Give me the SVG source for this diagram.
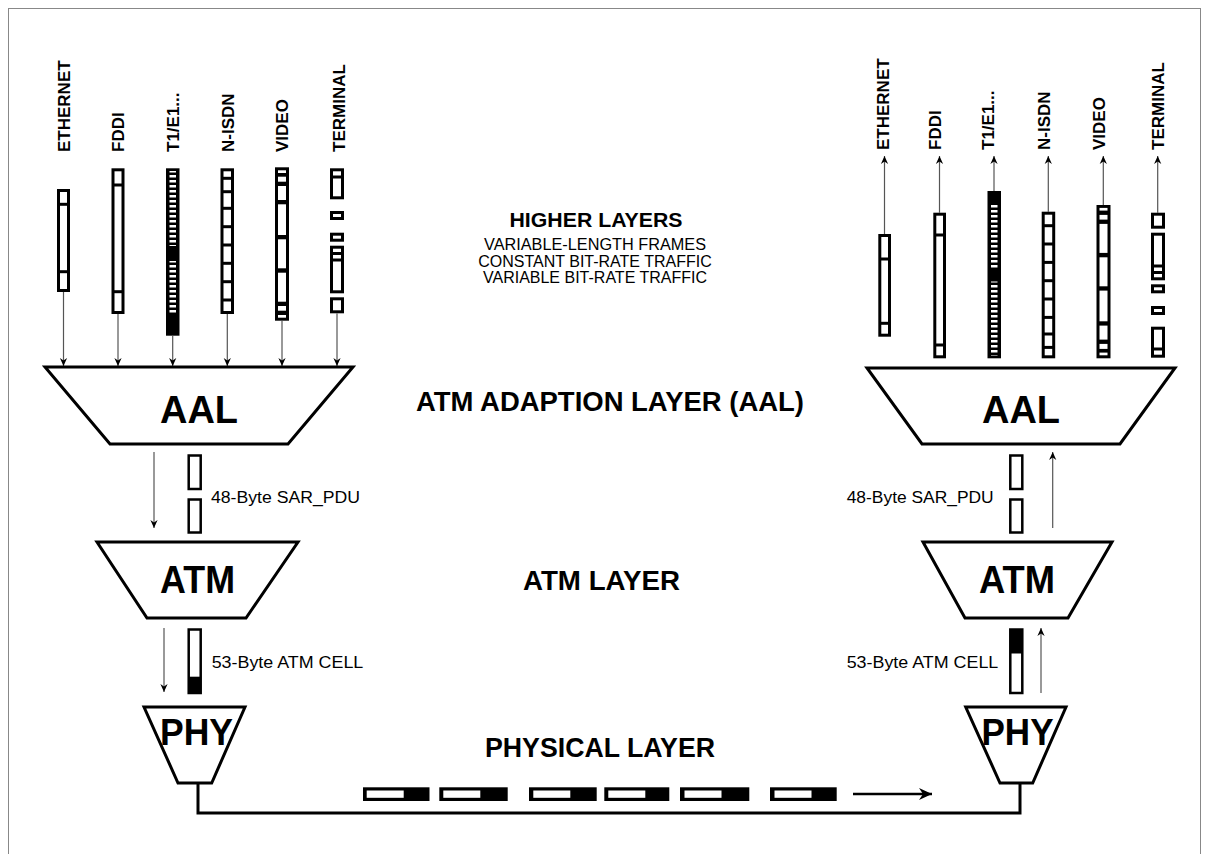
<svg xmlns="http://www.w3.org/2000/svg" width="1209" height="854" viewBox="0 0 1209 854">
<style>
.t{font-family:"Liberation Sans",Arial,sans-serif;fill:#000}
.b{font-weight:bold}
.lbl{font-family:"Liberation Sans",Arial,sans-serif;font-weight:bold;font-size:17px}
.hd{font-size:27px;font-weight:bold}
.big{font-size:38px;font-weight:bold}
.sm{font-size:16px}
.shape{fill:#fff;stroke:#000;stroke-width:3;stroke-linejoin:miter}
.arr{stroke:#555;stroke-width:1.2;fill:none;marker-end:url(#ah)}
.blk{fill:#000}
.wht{fill:#fff}
.box{fill:#fff;stroke:#000;stroke-width:2.5}
</style>
<defs>
<marker id="ah" viewBox="-9 -5 10 10" refX="0" refY="0" markerWidth="10" markerHeight="10" markerUnits="userSpaceOnUse" orient="auto">
<path d="M0,0 L-8,-3.6 L-5.5,0 L-8,3.6 Z" fill="#000"/>
</marker>
<marker id="ahb" viewBox="-14 -7 15 14" refX="0" refY="0" markerWidth="15" markerHeight="14" markerUnits="userSpaceOnUse" orient="auto">
<path d="M0,0 L-13,-6 L-9,0 L-13,6 Z" fill="#000"/>
</marker>
<pattern id="dash" patternUnits="userSpaceOnUse" x="0" y="0" width="1000" height="5">
<rect x="0" y="0" width="1000" height="2.5" fill="#fff"/>
</pattern>
</defs>
<rect x="8.5" y="8.5" width="1192" height="860" fill="none" stroke="#888" stroke-width="1"/>

<g id="text-layers">
<text class="t b" x="596" y="227" font-size="21" text-anchor="middle" textLength="173" lengthAdjust="spacingAndGlyphs">HIGHER LAYERS</text>
<text class="t" x="595" y="250" font-size="16" text-anchor="middle" textLength="222" lengthAdjust="spacingAndGlyphs">VARIABLE-LENGTH FRAMES</text>
<text class="t" x="595" y="267" font-size="16" text-anchor="middle">CONSTANT BIT-RATE TRAFFIC</text>
<text class="t" x="595" y="283" font-size="16" text-anchor="middle">VARIABLE BIT-RATE TRAFFIC</text>
<text class="t hd" x="610" y="411" text-anchor="middle" textLength="388" lengthAdjust="spacingAndGlyphs">ATM ADAPTION LAYER (AAL)</text>
<text class="t hd" x="601.5" y="590" text-anchor="middle" textLength="157" lengthAdjust="spacingAndGlyphs">ATM LAYER</text>
<text class="t hd" x="600" y="757" text-anchor="middle" textLength="230" lengthAdjust="spacingAndGlyphs">PHYSICAL LAYER</text>
</g>

<g id="connectors">
<line class="arr" x1="63.5" y1="292" x2="63.5" y2="366"/>
<line class="arr" x1="118" y1="314" x2="118" y2="366"/>
<line class="arr" x1="172.7" y1="336" x2="172.7" y2="366"/>
<line class="arr" x1="227.3" y1="314" x2="227.3" y2="366"/>
<line class="arr" x1="282" y1="321" x2="282" y2="366"/>
<line class="arr" x1="337" y1="313.5" x2="337" y2="366"/>
<line class="arr" x1="884.5" y1="234" x2="884.5" y2="156"/>
<line class="arr" x1="939.5" y1="212.7" x2="939.5" y2="156"/>
<line class="arr" x1="994" y1="191" x2="994" y2="156"/>
<line class="arr" x1="1048.3" y1="211.7" x2="1048.3" y2="156"/>
<line class="arr" x1="1103.3" y1="205" x2="1103.3" y2="156"/>
<line class="arr" x1="1157.7" y1="212.7" x2="1157.7" y2="156"/>
<line class="arr" x1="154" y1="452" x2="154" y2="528"/>
<line class="arr" x1="1052.7" y1="528" x2="1052.7" y2="452"/>
<line class="arr" x1="164" y1="628" x2="164" y2="692"/>
<line class="arr" x1="1041" y1="693" x2="1041" y2="628"/>
<polyline points="198,783 198,813 1020,813 1020,783" fill="none" stroke="#000" stroke-width="3"/>
<line x1="853" y1="794" x2="932" y2="794" stroke="#000" stroke-width="2.5" marker-end="url(#ahb)"/>
</g>

<g id="labels-left">
<text class="lbl" transform="translate(70,152) rotate(-90)">ETHERNET</text>
<text class="lbl" transform="translate(123.5,152) rotate(-90)">FDDI</text>
<text class="lbl" transform="translate(178.5,152) rotate(-90)">T1/E1...</text>
<text class="lbl" transform="translate(233.5,152) rotate(-90)">N-ISDN</text>
<text class="lbl" transform="translate(288,152) rotate(-90)">VIDEO</text>
<text class="lbl" transform="translate(344.5,152) rotate(-90)">TERMINAL</text>
</g>
<g id="labels-right">
<text class="lbl" transform="translate(888.5,150) rotate(-90)">ETHERNET</text>
<text class="lbl" transform="translate(941,150) rotate(-90)">FDDI</text>
<text class="lbl" transform="translate(993.5,150) rotate(-90)">T1/E1...</text>
<text class="lbl" transform="translate(1050,150) rotate(-90)">N-ISDN</text>
<text class="lbl" transform="translate(1105,150) rotate(-90)">VIDEO</text>
<text class="lbl" transform="translate(1163.5,150) rotate(-90)">TERMINAL</text>
</g>

<g id="bar-ethernet-l">
<rect class="blk" x="57" y="189" width="13" height="103"/>
<rect class="wht" x="60" y="192" width="7" height="10.8"/>
<rect class="wht" x="60" y="205.8" width="7" height="64.4"/>
<rect class="wht" x="60" y="273.2" width="7" height="15.8"/>
</g>
<g id="bar-fddi-l">
<rect class="blk" x="111.5" y="168.3" width="13" height="145.7"/>
<rect class="wht" x="114.5" y="171.3" width="7" height="12.2"/>
<rect class="wht" x="114.5" y="186.5" width="7" height="103.7"/>
<rect class="wht" x="114.5" y="293.2" width="7" height="17.8"/>
</g>
<g id="bar-t1-l">
<rect class="blk" x="166" y="168.3" width="13.5" height="167.4"/>
<rect fill="url(#dash)" x="169.5" y="171" width="6.5" height="75"/>
<rect fill="url(#dash)" x="169.5" y="261" width="6.5" height="52"/>
</g>
<g id="bar-nisdn-l">
<rect class="blk" x="220.5" y="168.3" width="13.5" height="145.7"/>
<rect class="wht" x="223.5" y="171.3" width="7.5" height="5.5"/>
<rect class="wht" x="223.5" y="179.8" width="7.5" height="10.4"/>
<rect class="wht" x="223.5" y="193.2" width="7.5" height="13.6"/>
<rect class="wht" x="223.5" y="209.8" width="7.5" height="15.4"/>
<rect class="wht" x="223.5" y="228.2" width="7.5" height="15.3"/>
<rect class="wht" x="223.5" y="246.5" width="7.5" height="15.3"/>
<rect class="wht" x="223.5" y="264.8" width="7.5" height="15.4"/>
<rect class="wht" x="223.5" y="283.2" width="7.5" height="15.3"/>
<rect class="wht" x="223.5" y="301.5" width="7.5" height="9.5"/>
</g>
<g id="bar-video-l">
<rect class="blk" x="275" y="167.3" width="14" height="153.4"/>
<rect class="wht" x="278" y="170.3" width="8" height="2.7"/>
<rect class="wht" x="278" y="176.7" width="8" height="5"/>
<rect class="wht" x="278" y="186" width="8" height="14"/>
<rect class="wht" x="278" y="204.3" width="8" height="30.7"/>
<rect class="wht" x="278" y="239.3" width="8" height="29"/>
<rect class="wht" x="278" y="272.7" width="8" height="29"/>
<rect class="wht" x="278" y="306" width="8" height="4.7"/>
<rect class="wht" x="278" y="315" width="8" height="2.7"/>
</g>
<g id="bar-terminal-l">
<rect class="blk" x="330" y="168.3" width="14" height="31"/>
<rect class="blk" x="330" y="211" width="14" height="9"/>
<rect class="blk" x="330" y="232.7" width="14" height="9"/>
<rect class="blk" x="330" y="245.7" width="14" height="47.6"/>
<rect class="blk" x="330" y="297.3" width="14" height="16"/>
<rect class="wht" x="333" y="171.3" width="8" height="4.2"/>
<rect class="wht" x="333" y="178.5" width="8" height="17.8"/>
<rect class="wht" x="333" y="214" width="8" height="3"/>
<rect class="wht" x="333" y="235.7" width="8" height="3"/>
<rect class="wht" x="333" y="248.7" width="8" height="3.3"/>
<rect class="wht" x="333" y="255" width="8" height="3.5"/>
<rect class="wht" x="333" y="261.5" width="8" height="28.8"/>
<rect class="wht" x="333" y="300.3" width="8" height="10"/>
</g>

<g id="bar-ethernet-r">
<rect class="blk" x="878.3" y="234" width="12.7" height="102.7"/>
<rect class="wht" x="881.3" y="237" width="6.7" height="20.5"/>
<rect class="wht" x="881.3" y="260.5" width="6.7" height="61.3"/>
<rect class="wht" x="881.3" y="324.8" width="6.7" height="8.9"/>
</g>
<g id="bar-fddi-r">
<rect class="blk" x="933.3" y="212.7" width="12.7" height="145.6"/>
<rect class="wht" x="936.3" y="215.7" width="6.7" height="17.8"/>
<rect class="wht" x="936.3" y="236.5" width="6.7" height="107"/>
<rect class="wht" x="936.3" y="346.5" width="6.7" height="8.8"/>
</g>
<g id="bar-t1-r">
<rect class="blk" x="987.5" y="191" width="13.5" height="167.3"/>
<rect fill="url(#dash)" x="991" y="203" width="6.5" height="67"/>
<rect fill="url(#dash)" x="991" y="281.5" width="6.5" height="74"/>
</g>
<g id="bar-nisdn-r">
<rect class="blk" x="1041.7" y="211.7" width="13.5" height="146.6"/>
<rect class="wht" x="1044.7" y="214.7" width="7.5" height="9.5"/>
<rect class="wht" x="1044.7" y="227.2" width="7.5" height="15.3"/>
<rect class="wht" x="1044.7" y="245.5" width="7.5" height="15.4"/>
<rect class="wht" x="1044.7" y="263.9" width="7.5" height="15.3"/>
<rect class="wht" x="1044.7" y="282.2" width="7.5" height="15.3"/>
<rect class="wht" x="1044.7" y="300.5" width="7.5" height="15.4"/>
<rect class="wht" x="1044.7" y="318.9" width="7.5" height="13.6"/>
<rect class="wht" x="1044.7" y="335.5" width="7.5" height="10.4"/>
<rect class="wht" x="1044.7" y="348.9" width="7.5" height="6.4"/>
</g>
<g id="bar-video-r">
<rect class="blk" x="1096.5" y="205" width="14" height="153.3"/>
<rect class="wht" x="1099.5" y="207.9" width="8" height="2.7"/>
<rect class="wht" x="1099.5" y="214.9" width="8" height="4.7"/>
<rect class="wht" x="1099.5" y="223.9" width="8" height="29"/>
<rect class="wht" x="1099.5" y="257.3" width="8" height="29"/>
<rect class="wht" x="1099.5" y="290.6" width="8" height="30.7"/>
<rect class="wht" x="1099.5" y="325.6" width="8" height="14"/>
<rect class="wht" x="1099.5" y="343.9" width="8" height="5"/>
<rect class="wht" x="1099.5" y="352.6" width="8" height="2.7"/>
</g>
<g id="bar-terminal-r">
<rect class="blk" x="1151" y="212.7" width="14" height="16"/>
<rect class="blk" x="1151" y="232.7" width="14" height="47.6"/>
<rect class="blk" x="1151" y="284.3" width="14" height="9"/>
<rect class="blk" x="1151" y="306" width="14" height="9"/>
<rect class="blk" x="1151" y="326.7" width="14" height="31"/>
<rect class="wht" x="1154" y="215.7" width="8" height="10"/>
<rect class="wht" x="1154" y="235.7" width="8" height="28.8"/>
<rect class="wht" x="1154" y="267.5" width="8" height="3.5"/>
<rect class="wht" x="1154" y="274" width="8" height="3.3"/>
<rect class="wht" x="1154" y="287.3" width="8" height="3"/>
<rect class="wht" x="1154" y="309" width="8" height="3"/>
<rect class="wht" x="1154" y="329.7" width="8" height="17.8"/>
<rect class="wht" x="1154" y="350.5" width="8" height="4.2"/>
</g>

<g id="aal-left">
<polygon class="shape" points="45,367 353,367 288,444 110,444"/>
<text class="t big" x="199" y="423" text-anchor="middle" textLength="78" lengthAdjust="spacingAndGlyphs">AAL</text>
</g>
<g id="aal-right">
<polygon class="shape" points="867,368 1175,368 1120,444 922,444"/>
<text class="t big" x="1021" y="423" text-anchor="middle" textLength="78" lengthAdjust="spacingAndGlyphs">AAL</text>
</g>
<g id="atm-left">
<polygon class="shape" points="97,542 298,542 246,618 147,618"/>
<text class="t big" x="197.5" y="593.3" text-anchor="middle" textLength="75" lengthAdjust="spacingAndGlyphs">ATM</text>
</g>
<g id="atm-right">
<polygon class="shape" points="923,542 1112,542 1068,618 965,618"/>
<text class="t big" x="1017" y="593.3" text-anchor="middle" textLength="76" lengthAdjust="spacingAndGlyphs">ATM</text>
</g>
<g id="phy-left">
<polygon class="shape" points="144,707 245,707 211.7,783 178,783"/>
<text class="t b" x="196.5" y="745" font-size="37" text-anchor="middle" textLength="73" lengthAdjust="spacingAndGlyphs">PHY</text>
</g>
<g id="phy-right">
<polygon class="shape" points="965.7,707 1066,707 1032.7,783 1000,783"/>
<text class="t b" x="1017.5" y="745" font-size="37" text-anchor="middle" textLength="72" lengthAdjust="spacingAndGlyphs">PHY</text>
</g>

<g id="sar-pdu-left">
<rect class="box" x="188.7" y="455.5" width="12" height="33.5"/>
<rect class="box" x="188.7" y="499.5" width="12" height="33"/>
<text class="t sm" x="211" y="503.3" textLength="149" lengthAdjust="spacingAndGlyphs">48-Byte SAR_PDU</text>
</g>
<g id="sar-pdu-right">
<rect class="box" x="1010.3" y="455.5" width="12" height="33.5"/>
<rect class="box" x="1010.3" y="499.5" width="12" height="33"/>
<text class="t sm" x="846.7" y="503.3" textLength="147" lengthAdjust="spacingAndGlyphs">48-Byte SAR_PDU</text>
</g>
<g id="cell-left">
<rect class="box" x="188.7" y="629.5" width="12" height="63.5"/>
<rect class="blk" x="188.7" y="676.7" width="12" height="16.3"/>
<text class="t sm" x="211.7" y="667.7" textLength="151.6" lengthAdjust="spacingAndGlyphs">53-Byte ATM CELL</text>
</g>
<g id="cell-right">
<rect class="box" x="1010.3" y="629.5" width="12" height="63.5"/>
<rect class="blk" x="1010.3" y="629.5" width="12" height="24"/>
<text class="t sm" x="846.7" y="667.7" textLength="151.6" lengthAdjust="spacingAndGlyphs">53-Byte ATM CELL</text>
</g>

<g id="cells-stream">
<rect class="blk" x="363" y="787.3" width="66.5" height="13.7"/>
<rect class="wht" x="366.7" y="790.5" width="37" height="7.3"/>
<rect class="blk" x="439.3" y="787.3" width="68.4" height="13.7"/>
<rect class="wht" x="443.3" y="790.5" width="37" height="7.3"/>
<rect class="blk" x="529" y="787.3" width="67.7" height="13.7"/>
<rect class="wht" x="533.3" y="790.5" width="37" height="7.3"/>
<rect class="blk" x="604.3" y="787.3" width="65" height="13.7"/>
<rect class="wht" x="608.3" y="790.5" width="37" height="7.3"/>
<rect class="blk" x="680" y="787.3" width="69.3" height="13.7"/>
<rect class="wht" x="684.5" y="790.5" width="37" height="7.3"/>
<rect class="blk" x="770" y="787.3" width="66.7" height="13.7"/>
<rect class="wht" x="774.5" y="790.5" width="37" height="7.3"/>
</g>
</svg>
